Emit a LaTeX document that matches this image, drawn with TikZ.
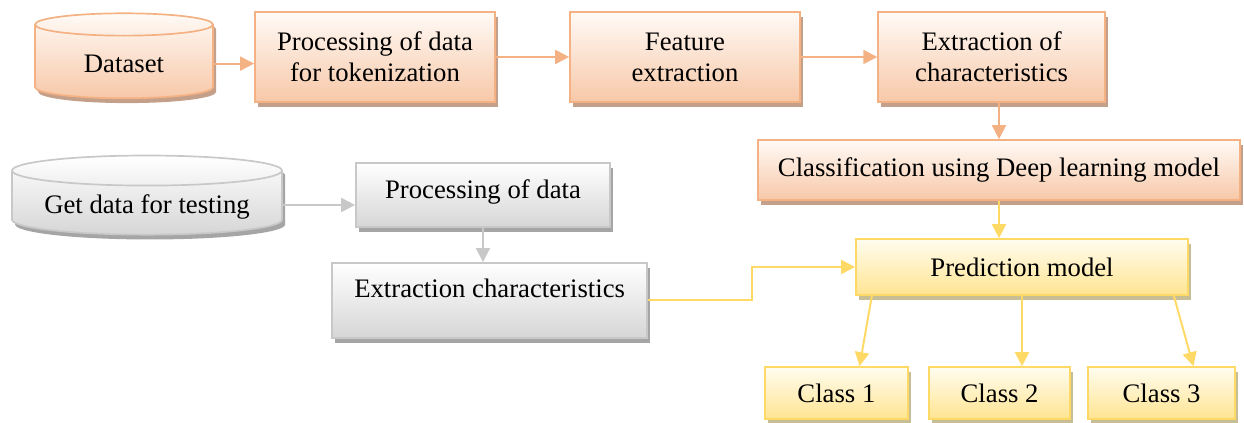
\documentclass[tikz,border=0pt]{standalone}
\usepackage{fontspec}
\setmainfont{Liberation Serif}
\usetikzlibrary{arrows.meta,positioning,shapes.geometric,calc,shadows}
\definecolor{PeachLine}{RGB}{244,177,131}
\definecolor{PeachTop}{RGB}{255,250,246}
\definecolor{PeachBottom}{RGB}{247,200,168}
\definecolor{PeachShadow}{RGB}{196,160,138}
\definecolor{SunLine}{RGB}{255,217,102}
\definecolor{SunTop}{RGB}{255,253,240}
\definecolor{SunBottom}{RGB}{255,228,145}
\definecolor{SunShadow}{RGB}{200,190,150}
\definecolor{AshLine}{RGB}{200,200,200}
\definecolor{AshTop}{RGB}{255,255,255}
\definecolor{AshBottom}{RGB}{214,214,214}
\definecolor{AshShadow}{RGB}{165,165,165}
\tikzset{
  stage/.style={draw=PeachLine,top color=PeachTop,bottom color=PeachBottom,
    line width=1.2pt,align=center,font=\fontsize{19}{22}\selectfont,
    drop shadow={shadow xshift=0.08cm,shadow yshift=-0.12cm,
      fill=PeachShadow,opacity=1}},
  testbox/.style={draw=AshLine,top color=AshTop,bottom color=AshBottom,
    line width=1.2pt,align=center,font=\fontsize{19}{22}\selectfont,
    drop shadow={shadow xshift=0.08cm,shadow yshift=-0.12cm,
      fill=AshShadow,opacity=1}},
  predbox/.style={draw=SunLine,top color=SunTop,bottom color=SunBottom,
    line width=1.2pt,align=center,font=\fontsize{19}{22}\selectfont,
    drop shadow={shadow xshift=0.08cm,shadow yshift=-0.12cm,
      fill=SunShadow,opacity=1}},
  store/.style={cylinder,shape border rotate=90},
  oarrow/.style={-{Triangle[length=0.35cm,width=0.35cm]},line width=1.4pt,PeachLine},
  garrow/.style={-{Triangle[length=0.35cm,width=0.35cm]},line width=1.4pt,AshLine},
  yarrow/.style={-{Triangle[length=0.35cm,width=0.35cm]},line width=1.4pt,SunLine}
}

\begin{document}
\begin{tikzpicture}

\useasboundingbox (0,0) rectangle (31.1,-10.575);

% Training branch
\node[stage,store,aspect=0.25,minimum width=4.45cm,minimum height=2.125cm,
  text height=0.45cm]
  (data) at (3.10,-1.59) {Dataset};
\node[stage,minimum width=6.0cm,minimum height=2.25cm]
  (tok) at (9.375,-1.425) {Processing of data\\for tokenization};
\node[stage,minimum width=5.75cm,minimum height=2.25cm]
  (feat) at (17.125,-1.425) {Feature\\extraction};
\node[stage,minimum width=5.675cm,minimum height=2.25cm]
  (extr) at (24.79,-1.425) {Extraction of\\characteristics};
\node[stage,minimum width=12.05cm,minimum height=1.5cm]
  (clas) at (24.975,-4.25) {Classification using Deep learning model};

% Testing branch
\node[testbox,store,aspect=0.14,minimum width=6.75cm,minimum height=1.65cm,
  text height=0.55cm]
  (gtest) at (3.675,-5.125) {Get data for testing};
\node[testbox,minimum width=6.35cm,minimum height=1.6cm,text depth=0.28cm]
  (prep) at (12.075,-4.875) {Processing of data};
\node[testbox,minimum width=7.875cm,minimum height=1.875cm,text depth=0.6cm]
  (extc) at (12.24,-7.51) {Extraction characteristics};

% Prediction and classes
\node[predbox,minimum width=8.3cm,minimum height=1.4cm]
  (pred) at (25.55,-6.675) {Prediction model};
\node[predbox,minimum width=3.575cm,minimum height=1.3cm]
  (c1) at (20.91,-9.825) {Class 1};
\node[predbox,minimum width=3.525cm,minimum height=1.3cm]
  (c2) at (24.99,-9.825) {Class 2};
\node[predbox,minimum width=3.675cm,minimum height=1.3cm]
  (c3) at (29.04,-9.825) {Class 3};

\coordinate (bend) at (18.8,-7.0);

% Arrows
\draw[oarrow] (data.east) -- (data.east -| tok.west);
\draw[oarrow] (tok) -- (feat);
\draw[oarrow] (feat) -- (extr);
\draw[oarrow] (extr.south -| clas.north) -- (clas.north);
\draw[yarrow] (clas.south) -- (clas.south |- pred.north);
\draw[garrow] (gtest.east) -- (gtest.east -| prep.west);
\draw[garrow] (prep.south) -- (prep.south |- extc.north);
\draw[yarrow] (extc.east) -| (bend) |- (pred.west);
\draw[yarrow] ($(pred.south west)!0.05!(pred.south east)$)
  -- ($(c1.north west)!0.66!(c1.north east)$);
\draw[yarrow] (pred.south) -- (pred.south |- c2.north);
\draw[yarrow] ($(pred.south west)!0.955!(pred.south east)$)
  -- ($(c3.north west)!0.714!(c3.north east)$);

\end{tikzpicture}
\end{document}
